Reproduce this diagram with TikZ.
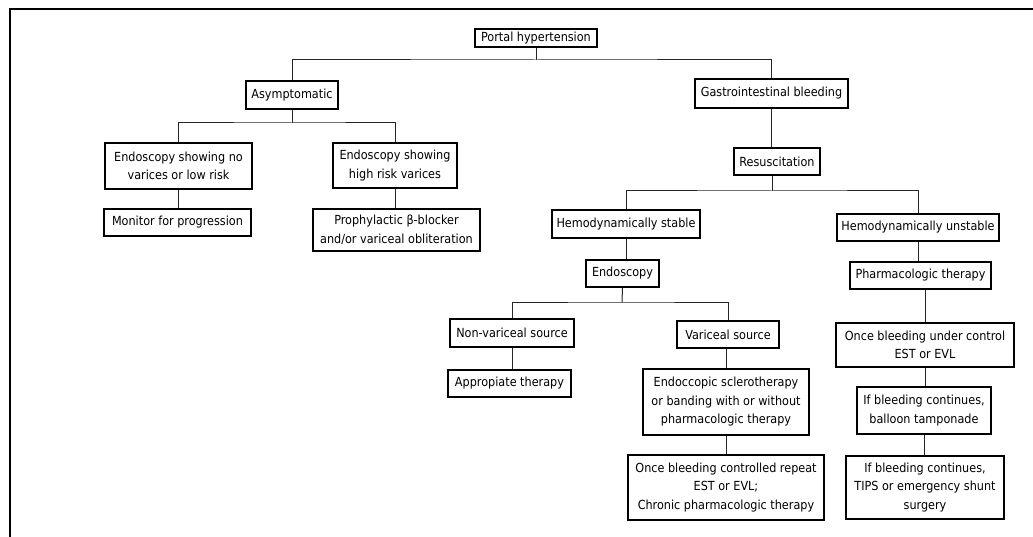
\documentclass[tikz,border=0pt]{standalone}
\usepackage{fontspec}
\setmainfont{DejaVu Sans Condensed}
\begin{document}
\begin{tikzpicture}[x=1pt,y=-1pt,
  box/.style={draw=black,line width=1.2pt,inner sep=0pt,align=center,
    font=\fontsize{12.5}{18.5}\selectfont},
  conn/.style={draw=black!85,line width=1pt}]
\useasboundingbox (0,0) rectangle (1033,537);
\draw[line width=1.6pt] (10,537) -- (10,9) -- (1033,9);
% nodes
\node[box,minimum width=122,minimum height=18] (ph) at (536,38) {Portal hypertension};
\node[box,minimum width=92,minimum height=28] (asym) at (292,95) {Asymptomatic};
\node[box,minimum width=153,minimum height=29] (gib) at (771.5,93.5) {Gastrointestinal bleeding};
\node[box,minimum width=147,minimum height=46] (eno) at (178.5,166) {Endoscopy showing no\\varices or low risk};
\node[box,minimum width=124,minimum height=45] (ehr) at (395,165.5) {Endoscopy showing\\high risk varices};
\node[box,minimum width=147,minimum height=27] (mon) at (177.5,222.5) {Monitor for progression};
\node[box,minimum width=167,minimum height=42] (pro) at (396.5,230) {Prophylactic β-blocker\\and/or variceal obliteration};
\node[box,minimum width=86,minimum height=27] (res) at (777,161.5) {Resuscitation};
\node[box,minimum width=148,minimum height=28] (hs) at (626,224) {Hemodynamically stable};
\node[box,minimum width=162,minimum height=27] (hu) at (918,227.5) {Hemodynamically unstable};
\node[box,minimum width=73,minimum height=27] (endo) at (622.5,273.5) {Endoscopy};
\node[box,minimum width=141,minimum height=27] (pt) at (920.5,275.5) {Pharmacologic therapy};
\node[box,minimum width=124,minimum height=28] (nvs) at (512,333) {Non-variceal source};
\node[box,minimum width=102,minimum height=27] (vs) at (728,334.5) {Variceal source};
\node[box,minimum width=123,minimum height=27] (at) at (509.5,383.5) {Appropiate therapy};
\node[box,minimum width=166,minimum height=66] (esc) at (726,402) {Endoccopic sclerotherapy\\or banding with or without\\pharmacologic therapy};
\node[box,minimum width=196,minimum height=65] (obc) at (726,487.5) {Once bleeding controlled repeat\\EST or EVL;\\Chronic pharmacologic therapy};
\node[box,minimum width=178,minimum height=44] (obu) at (925,345) {Once bleeding under control\\EST or EVL};
\node[box,minimum width=134,minimum height=47] (ibb) at (924,410.5) {If bleeding continues,\\balloon tamponade};
\node[box,minimum width=158,minimum height=63] (ibt) at (925,487.5) {If bleeding continues,\\TIPS or emergency shunt\\surgery};
% junctions
\coordinate (j1) at (536,60);
\coordinate (j2) at (292,123);
\coordinate (j3) at (772,191);
\coordinate (j4) at (622,302);
% connectors
\draw[conn] (ph.south) -- (j1);
\draw[conn] (asym.north) |- (j1) -| (gib.north);
\draw[conn] (asym.south) -- (j2);
\draw[conn] (eno.north) |- (j2) -| (ehr.north);
\draw[conn] (eno.south) -- (eno.south |- mon.north);
\draw[conn] (ehr.south) -- (ehr.south |- pro.north);
\draw[conn] (gib.south) -- (gib.south |- res.north);
\draw[conn] (j3 |- res.south) -- (j3);
\draw[conn] (hs.north) |- (j3) -| (hu.north);
\draw[conn] (hs.south) -- (hs.south |- endo.north);
\draw[conn] (endo.south) -- (j4);
\draw[conn] (nvs.north) |- (j4) -| (vs.north);
\draw[conn] (nvs.south) -- (nvs.south |- at.north);
\draw[conn] (esc.north) -- (esc.north |- vs.south);
\draw[conn] (esc.south) -- (esc.south |- obc.north);
\draw[conn] (hu.south) -- (hu.south |- pt.north);
\draw[conn] (obu.north) -- (obu.north |- pt.south);
\draw[conn] (obu.south) -- (obu.south |- ibb.north);
\draw[conn] (ibb.south) -- (ibb.south |- ibt.north);
\end{tikzpicture}
\end{document}
